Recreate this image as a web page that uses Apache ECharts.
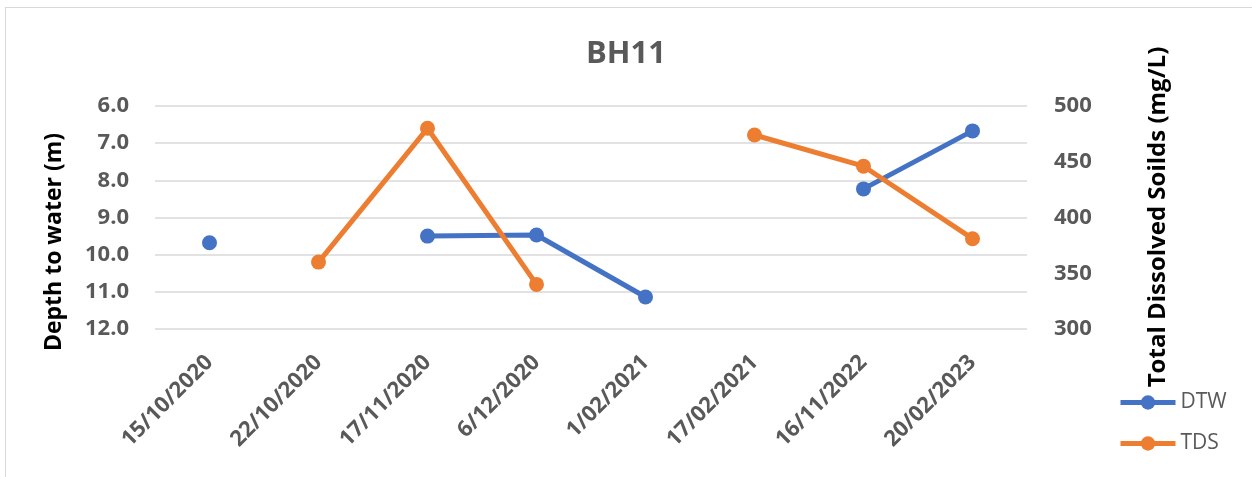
<!DOCTYPE html>
<html>
<head>
<meta charset="utf-8">
<script src="https://cdn.jsdelivr.net/npm/echarts@6/dist/echarts.min.js"></script>
<style>
  html, body { margin: 0; padding: 0; background: #fff; }
  #frame { position: absolute; left: 5px; top: 7px; width: 1260px; height: 480px; border: 1px solid #d9d9d9; box-sizing: border-box; }
  #main { position: absolute; left: 0; top: 0; width: 1252px; height: 477px; }
</style>
</head>
<body>
<div id="frame"></div>
<div id="main"></div>
<script>
var chart = echarts.init(document.getElementById('main'));

var dates = ['15/10/2020', '22/10/2020', '17/11/2020', '6/12/2020',
    '1/02/2021', '17/02/2021', '16/11/2022', '20/02/2023'];
// depth to water (m), null where not measured
var dtw = [9.68, null, 9.50, 9.47, 11.14, null, 8.23, 6.67];
// total dissolved solids (mg/L)
var tds = [null, 360, 480, 340, null, 474, 446, 381];

var grey = '#595959';
var font = '"Open Sans", sans-serif';

var option = {
    textStyle: { fontFamily: font },
    title: {
        text: 'BH11',
        left: 'center',
        top: 34,
        textStyle: { color: grey, fontSize: 31, fontWeight: 'bold', fontFamily: font }
    },
    legend: {
        orient: 'vertical',
        left: 1113,
        top: 387,
        itemWidth: 55,
        itemHeight: 18,
        itemGap: 20,
        lineStyle: { width: 5 },
        textStyle: { color: grey, fontSize: 21, fontFamily: font },
        data: ['DTW', 'TDS']
    },
    graphic: [{
        type: 'text',
        x: 54,
        y: 242,
        rotation: Math.PI / 2,
        style: {
            text: 'Depth to water (m)',
            fill: '#000',
            font: 'bold 23px "Open Sans", sans-serif',
            align: 'center',
            verticalAlign: 'middle'
        }
    }, {
        type: 'text',
        x: 1158,
        y: 217,
        rotation: Math.PI / 2,
        style: {
            text: 'Total Dissolved Soilds (mg/L)',
            fill: '#000',
            font: 'bold 24px "Open Sans", sans-serif',
            align: 'center',
            verticalAlign: 'middle'
        }
    }],
    grid: { left: 155, right: 225, top: 106, bottom: 148 },
    xAxis: {
        type: 'category',
        data: dates,
        boundaryGap: true,
        axisLine: { show: false },
        axisTick: { show: false },
        axisLabel: {
            rotate: 45,
            interval: 0,
            margin: 30,
            color: grey,
            fontSize: 22,
            fontWeight: 'bold',
            fontFamily: font
        }
    },
    yAxis: [{
        type: 'value',
        inverse: true,
        min: 6,
        max: 12,
        interval: 1,
        axisLine: { show: false },
        axisTick: { show: false },
        axisLabel: {
            color: grey,
            fontSize: 22,
            fontWeight: 'bold',
            margin: 26,
            formatter: function (v) { return v.toFixed(1); }
        },
        splitLine: { lineStyle: { color: '#d9d9d9', width: 1.5 } }
    }, {
        type: 'value',
        min: 300,
        max: 500,
        interval: 50,
        axisLine: { show: false },
        axisTick: { show: false },
        axisLabel: {
            color: grey,
            fontSize: 22,
            fontWeight: 'bold',
            margin: 27
        },
        splitLine: { show: false }
    }],
    series: [{
        name: 'DTW',
        type: 'line',
        yAxisIndex: 0,
        data: dtw,
        connectNulls: false,
        symbol: 'circle',
        symbolSize: 15,
        showAllSymbol: true,
        lineStyle: { width: 5, color: '#4472C4' },
        itemStyle: { color: '#4472C4' }
    }, {
        name: 'TDS',
        type: 'line',
        yAxisIndex: 1,
        data: tds,
        connectNulls: false,
        symbol: 'circle',
        symbolSize: 15,
        showAllSymbol: true,
        lineStyle: { width: 5, color: '#ED7D31' },
        itemStyle: { color: '#ED7D31' }
    }]
};

chart.setOption(option);
</script>
</body>
</html>
